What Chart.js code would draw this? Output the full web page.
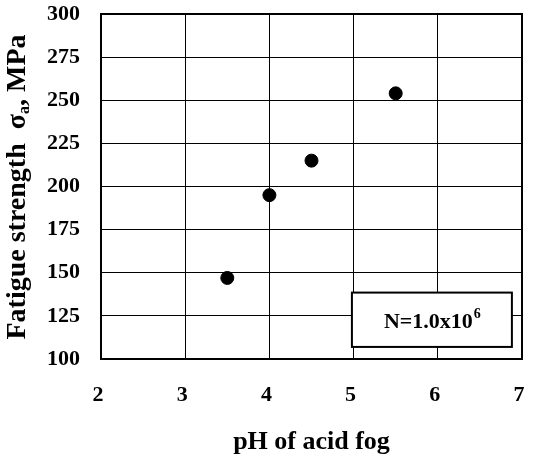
<!DOCTYPE html>
<html>
<head>
<meta charset="utf-8">
<script src="https://cdn.jsdelivr.net/npm/chart.js@4/dist/chart.umd.min.js"></script>
<style>
  html, body { margin: 0; padding: 0; background: #fff; }
  #wrap { width: 533px; height: 458px; }
</style>
</head>
<body>
<div id="wrap"><canvas id="chart" width="533" height="458"></canvas></div>
<script>
const phValues = [3.5, 4.0, 4.5, 5.5];
const fatigueStrength = [147, 195, 215, 254];
const xRange = [2, 7];
const yRange = [100, 300];
const yStep = 25;
const cyclesLabel = 'N=1.0x10';
const cyclesExp = '6';

const FONT = '"Liberation Serif", "Times New Roman", serif';

// outer frame of the plot area
const framePlugin = {
  id: 'frame',
  afterDatasetsDraw(chart) {
    const { ctx, chartArea: a } = chart;
    ctx.save();
    ctx.strokeStyle = '#000';
    ctx.lineWidth = 2;
    ctx.strokeRect(a.left, a.top, a.right - a.left, a.bottom - a.top);
    ctx.restore();
  },
};

// boxed note "N=1.0x10^6", placed in data units
const notePlugin = {
  id: 'note',
  afterDatasetsDraw(chart) {
    const { ctx, scales: { x, y } } = chart;
    const left = x.getPixelForValue(4.98);
    const right = x.getPixelForValue(6.88);
    const top = y.getPixelForValue(138.5);
    const bottom = y.getPixelForValue(107);
    ctx.save();
    ctx.fillStyle = '#fff';
    ctx.fillRect(left, top, right - left, bottom - top);
    ctx.strokeStyle = '#000';
    ctx.lineWidth = 2;
    ctx.strokeRect(left, top, right - left, bottom - top);
    ctx.fillStyle = '#000';
    ctx.textBaseline = 'alphabetic';
    ctx.font = 'bold 22px ' + FONT;
    const w1 = ctx.measureText(cyclesLabel).width;
    ctx.font = 'bold 14px ' + FONT;
    const w2 = ctx.measureText(cyclesExp).width;
    const cx = (left + right) / 2;
    const base = (top + bottom) / 2 + 8;
    let sx = cx - (w1 + w2) / 2;
    ctx.font = 'bold 22px ' + FONT;
    ctx.fillText(cyclesLabel, sx, base);
    ctx.font = 'bold 14px ' + FONT;
    ctx.fillText(cyclesExp, sx + w1 + 1, base - 10);
    ctx.restore();
  },
};

// rotated y title with subscript "a"
const yTitlePlugin = {
  id: 'yTitle',
  afterDraw(chart) {
    const { ctx } = chart;
    const parts = [
      { t: 'Fatigue strength  σ', size: 28, dy: 0 },
      { t: 'a', size: 16, dy: 4 },
      { t: ', MPa', size: 28, dy: 0 },
    ];
    ctx.save();
    ctx.fillStyle = '#000';
    let total = 0;
    parts.forEach((p) => {
      ctx.font = 'bold ' + p.size + 'px ' + FONT;
      p.w = ctx.measureText(p.t).width;
      total += p.w;
    });
    ctx.translate(25, 187);
    ctx.rotate(-Math.PI / 2);
    ctx.textBaseline = 'alphabetic';
    let sx = -total / 2;
    parts.forEach((p) => {
      ctx.font = 'bold ' + p.size + 'px ' + FONT;
      ctx.fillText(p.t, sx, p.dy);
      sx += p.w;
    });
    ctx.restore();
  },
};

new Chart(document.getElementById('chart'), {
  type: 'scatter',
  data: {
    datasets: [
      {
        data: phValues.map((v, i) => ({ x: v, y: fatigueStrength[i] })),
        backgroundColor: '#000',
        borderColor: '#000',
        pointRadius: 6.5,
        pointHoverRadius: 6.5,
      },
    ],
  },
  options: {
    responsive: false,
    animation: false,
    layout: { padding: { top: 14, right: 11, left: 0, bottom: 0 } },
    plugins: {
      legend: { display: false },
      tooltip: { enabled: false },
    },
    scales: {
      x: {
        type: 'linear',
        min: xRange[0],
        max: xRange[1],
        afterFit: (scale) => {
          scale.height = 99;
          scale.paddingLeft = 0;
          scale.paddingRight = 0;
        },
        ticks: {
          stepSize: 1,
          padding: 23,
          labelOffset: -3,
          color: '#000',
          font: { family: FONT, size: 22, weight: 'bold' },
        },
        grid: { color: '#000', lineWidth: 1, drawTicks: false },
        border: { display: false },
        title: {
          display: true,
          text: 'pH of acid fog',
          color: '#000',
          padding: { top: 0, bottom: 0 },
          font: { family: FONT, size: 26, weight: 'bold' },
        },
      },
      y: {
        min: yRange[0],
        max: yRange[1],
        afterFit: (scale) => {
          scale.width = 101;
          scale.paddingTop = 0;
          scale.paddingBottom = 0;
        },
        ticks: {
          stepSize: yStep,
          padding: 21,
          color: '#000',
          font: { family: FONT, size: 22, weight: 'bold' },
        },
        grid: { color: '#000', lineWidth: 1, drawTicks: false },
        border: { display: false },
      },
    },
  },
  plugins: [framePlugin, notePlugin, yTitlePlugin],
});
</script>
</body>
</html>
